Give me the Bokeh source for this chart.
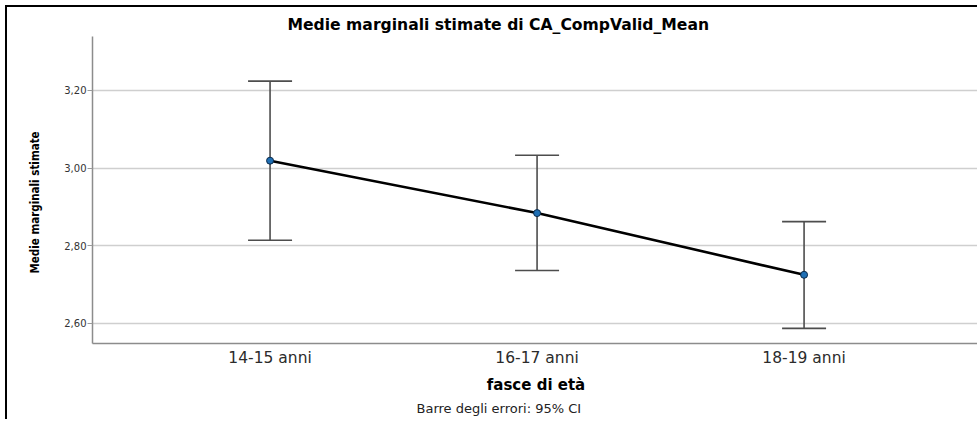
from bokeh.plotting import figure
from bokeh.models import FixedTicker, Range1d, Whisker, TeeHead, ColumnDataSource, Title
from bokeh.embed import file_html
from bokeh.resources import INLINE

# ---- data ----
categories = ["14-15 anni", "16-17 anni", "18-19 anni"]
means = [3.019, 2.884, 2.725]
ci_upper = [3.224, 3.033, 2.862]
ci_lower = [2.814, 2.736, 2.587]
y_ticks = [2.60, 2.80, 3.00, 3.20]
y_tick_labels = ["2,60", "2,80", "3,00", "3,20"]

title_text = "Medie marginali stimate di CA_CompValid_Mean"
y_label_text = "Medie marginali stimate"
x_label_text = "fasce di età"
note_text = "Barre degli errori: 95% CI"

xs = list(range(1, len(categories) + 1))
src = ColumnDataSource(dict(x=xs, mean=means, upper=ci_upper, lower=ci_lower))

W, H = 972, 414
p = figure(width=W, height=H, output_backend="svg", toolbar_location=None,
           x_range=Range1d(0.335, 3.657), y_range=Range1d(2.548, 3.339),
           min_border_left=85, min_border_right=0, min_border_top=29,
           min_border_bottom=78, background_fill_color="white",
           border_fill_color="white")
p.styles = {"border-left": "2px solid black", "border-top": "2px solid black",
            "margin-left": "5px", "margin-top": "5px"}
p.outline_line_color = None

# title
p.title.text = title_text
p.title.align = "left"
p.title.offset = 195
p.title.standoff = 5
p.title.text_font = "DejaVu Sans"
p.title.text_font_size = "15.6px"
p.title.text_font_style = "bold"
p.title.text_color = "black"

# axes
p.xaxis.ticker = FixedTicker(ticks=xs)
p.xaxis.major_label_overrides = {x: c for x, c in zip(xs, categories)}
p.yaxis.ticker = FixedTicker(ticks=y_ticks)
p.yaxis.major_label_overrides = {t: l for t, l in zip(y_ticks, y_tick_labels)}
for ax in (p.xaxis, p.yaxis):
    ax.axis_line_color = "#8c8c8c"
    ax.axis_line_width = 1.5
    ax.minor_tick_line_color = None
p.xaxis.major_tick_line_color = None
p.xaxis.major_tick_out = 0
p.xaxis.major_tick_in = 0
p.xaxis.major_label_text_font = "DejaVu Sans"
p.xaxis.major_label_text_font_size = "15.5px"
p.xaxis.major_label_text_color = "#2b2b2b"
p.xaxis.major_label_standoff = 5
p.xaxis.axis_label = x_label_text
p.xaxis.axis_label_text_font = "DejaVu Sans"
p.xaxis.axis_label_text_font_size = "15px"
p.xaxis.axis_label_text_font_style = "bold"
p.xaxis.axis_label_text_color = "black"
p.xaxis.axis_label_standoff = 6

p.yaxis.major_tick_line_color = "#9a9a9a"
p.yaxis.major_tick_out = 5
p.yaxis.major_tick_in = 0
p.yaxis.major_label_text_font = "DejaVu Sans"
p.yaxis.major_label_text_font_size = "10px"
p.yaxis.major_label_text_color = "#333333"
p.yaxis.major_label_standoff = 1

p.xgrid.grid_line_color = None
p.ygrid.ticker = FixedTicker(ticks=y_ticks)
p.ygrid.grid_line_color = "#cfcfcf"
p.ygrid.grid_line_width = 1.5

# y label (as a side title, so it can be shifted along the axis)
ylab = Title(text=y_label_text, align="left", offset=70, vertical_align="middle",
             standoff=38,
             text_font="'DejaVu Sans Condensed', 'DejaVu Sans', sans-serif",
             text_font_size="11.5px", text_font_style="bold", text_color="black")
p.add_layout(ylab, "left")

# footnote
note = Title(text=note_text, align="left", offset=324, vertical_align="middle",
             standoff=7, text_font="DejaVu Sans", text_font_size="13px",
             text_font_style="normal", text_color="#222222")
p.add_layout(note, "below")

# error bars
wh = Whisker(base="x", upper="upper", lower="lower", source=src,
             line_color="#4d4d4d", line_width=1.6,
             upper_head=TeeHead(size=44, line_color="#4d4d4d", line_width=1.6),
             lower_head=TeeHead(size=44, line_color="#4d4d4d", line_width=1.6))
p.add_layout(wh)

# mean line and points
p.line("x", "mean", source=src, line_color="black", line_width=2.6)
p.scatter("x", "mean", source=src, size=7, fill_color="#1f6fb4",
          line_color="#0b2a4a", line_width=1)

open("out.html", "w").write(file_html(p, INLINE))
